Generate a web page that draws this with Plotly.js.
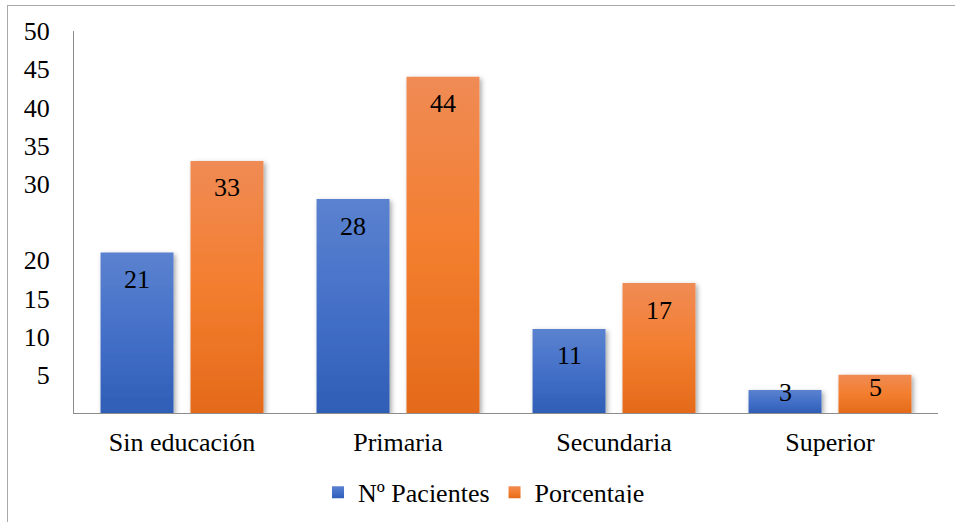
<!DOCTYPE html>
<html>
<head>
<meta charset="utf-8">
<script src="https://cdn.plot.ly/plotly-3.0.1.min.js"></script>
<style>
  html, body { margin: 0; padding: 0; background: #ffffff; }
  #frame {
    position: absolute; left: 7px; top: 5px; width: 948px; height: 517px;
    border-left: 1.5px solid #a9a9a9; border-top: 1.5px solid #a9a9a9;
    z-index: 2; pointer-events: none;
  }
  #clip { position: absolute; left: 0; top: 0; width: 955px; height: 503px; overflow: hidden; }
  #chart { width: 955px; height: 522px; }
  /* serif face for every label in the chart */
  #chart svg text { font-family: 'Liberation Serif', 'Times New Roman', 'DejaVu Serif', serif !important; }
  /* vertical gradient + soft shadow on the bars and legend swatches */
  .barlayer .trace:nth-child(1) path { fill: url(#gBlue) !important; filter: url(#soft); }
  .barlayer .trace:nth-child(2) path { fill: url(#gOrange) !important; filter: url(#soft); }
  .legend .traces:nth-child(1) .legendpoints path { fill: url(#gBlue) !important; }
  .legend .traces:nth-child(2) .legendpoints path { fill: url(#gOrange) !important; }
</style>
</head>
<body>
<svg width="0" height="0" style="position:absolute">
  <defs>
    <linearGradient id="gBlue" x1="0" y1="0" x2="0" y2="1">
      <stop offset="0" stop-color="#5b82cf"/>
      <stop offset="0.5" stop-color="#4470c8"/>
      <stop offset="1" stop-color="#2f5eb6"/>
    </linearGradient>
    <linearGradient id="gOrange" x1="0" y1="0" x2="0" y2="1">
      <stop offset="0" stop-color="#f08b55"/>
      <stop offset="0.5" stop-color="#f37e2f"/>
      <stop offset="1" stop-color="#e46a1a"/>
    </linearGradient>
    <filter id="soft" x="-20%" y="-20%" width="150%" height="150%">
      <feDropShadow dx="2" dy="2" stdDeviation="2.5" flood-color="#000" flood-opacity="0.35"/>
    </filter>
  </defs>
</svg>
<div id="frame"></div>
<div id="clip"><div id="chart"></div></div>
<script>
// Nivel educativo de los pacientes
const categorias = ['Sin educación', 'Primaria', 'Secundaria', 'Superior'];
const nPacientes = [21, 28, 11, 3];
const porcentaje = [33, 44, 17, 5];
const serieNombres = ['Nº Pacientes', 'Porcentaje'];
const yTicks = [5, 10, 15, 20, 30, 35, 40, 45, 50];

const FONT = 'Liberation Serif';
const W = 955, H = 522;
const margin = { l: 74, r: 17, t: 31, b: 109 };
const yMax = 50;
const pxPerUnit = (H - margin.t - margin.b) / yMax;

const series = [nPacientes, porcentaje];
const colors = ['#4472c4', '#ed7d31'];

const traces = series.map((vals, i) => ({
  type: 'bar',
  name: serieNombres[i],
  x: categorias,
  y: vals,
  marker: { color: colors[i], line: { width: 0 } },
  hoverinfo: 'skip'
}));

// value labels sit just inside the top of each bar
const annotations = [];
series.forEach((vals, i) => {
  vals.forEach((v, j) => {
    const barPx = v * pxPerUnit;
    const drop = Math.min(27, Math.max(2, barPx - 26));
    annotations.push({
      x: categorias[j], y: v, xref: 'x', yref: 'y',
      xshift: (i === 0 ? -45 : 45),
      yshift: -drop,
      yanchor: 'middle',
      text: String(v),
      showarrow: false,
      font: { family: FONT, size: 26, color: '#000' }
    });
  });
});

const layout = {
  width: W, height: H,
  margin: margin,
  paper_bgcolor: 'rgba(0,0,0,0)',
  plot_bgcolor: 'rgba(0,0,0,0)',
  barmode: 'group',
  bargap: 0.167,
  bargroupgap: 0.189,
  font: { family: FONT, size: 26, color: '#000' },
  xaxis: {
    showline: true, linecolor: '#8c8c8c', linewidth: 1,
    ticks: '', showgrid: false, zeroline: false,
    tickfont: { family: FONT, size: 26, color: '#000' },
    ticklabelstandoff: 6
  },
  yaxis: {
    range: [0, yMax],
    showline: true, linecolor: '#8c8c8c', linewidth: 1,
    ticks: '', showgrid: false, zeroline: false,
    tickmode: 'array', tickvals: yTicks,
    tickfont: { family: FONT, size: 26, color: '#000' },
    ticklabelstandoff: 18
  },
  showlegend: true,
  legend: {
    orientation: 'h',
    xref: 'container', yref: 'container',
    x: 0.333, xanchor: 'left',
    y: 0.102, yanchor: 'top',
    font: { family: FONT, size: 26, color: '#000' },
    bgcolor: 'rgba(0,0,0,0)'
  },
  annotations: annotations
};

Plotly.newPlot('chart', traces, layout, { staticPlot: true, displayModeBar: false });
</script>
</body>
</html>
